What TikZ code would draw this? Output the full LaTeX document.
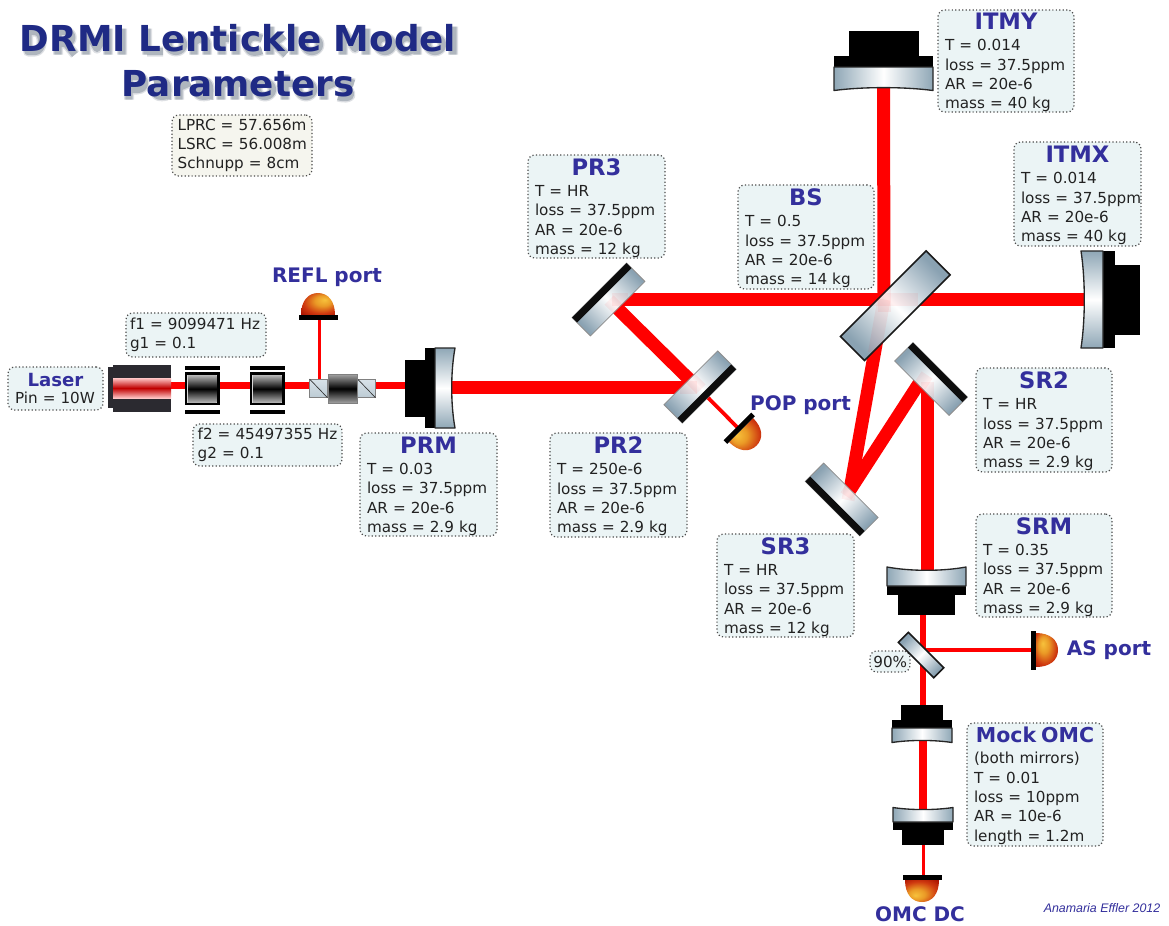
\documentclass[tikz,border=0pt]{standalone}
\usepackage{fontspec}
\setmainfont{DejaVu Sans}
\newfontfamily\authorfont{Liberation Sans}
\usetikzlibrary{calc}
\definecolor{beamred}{HTML}{FF0000}
\definecolor{titleblue}{HTML}{1F2A85}
\definecolor{labelblue}{HTML}{332F9C}
\definecolor{boxfill}{HTML}{EBF4F5}
\definecolor{boxfilltwo}{HTML}{F5F5EE}
\definecolor{glassedge}{HTML}{8FA7B6}
\definecolor{glassdiag}{HTML}{8AA2B2}
\definecolor{textgrey}{HTML}{222222}
\definecolor{domeA}{HTML}{F7C23C}
\definecolor{domeB}{HTML}{EA9A26}
\definecolor{domeC}{HTML}{CF3A10}
\definecolor{domeD}{HTML}{A81000}
\definecolor{lasergrey}{HTML}{2B2A30}
\definecolor{cubeA}{HTML}{D8E2E8}
\definecolor{cubeB}{HTML}{BCCBD4}
\definecolor{shadowgrey}{HTML}{5A6878}
\pgfdeclareradialshading{domeshade}{\pgfpoint{10bp}{10bp}}{%
  color(0bp)=(domeA);color(12bp)=(domeB);color(26bp)=(domeC);color(38bp)=(domeD);color(50bp)=(domeD)}
\tikzset{
  x=.75pt,y=-.75pt,
  beamthick/.style={draw=beamred,line width=9.75pt},
  beammid/.style={draw=beamred,line width=4.9pt},
  beamthin/.style={draw=beamred,line width=2.8pt},
  beamtint/.style={draw=beamred,line width=9.75pt,opacity=.06},
  parbox/.style={draw=black!70,fill=boxfill,line width=.9pt,dash pattern=on .9pt off 1.7pt,
    rounded corners=5pt,inner ysep=0pt,align=left,text=textgrey,
    font=\fontsize{11.4}{14.5}\selectfont},
  portlabel/.style={font=\fontsize{15}{15}\selectfont\bfseries,text=labelblue,inner sep=0pt},
}
\newcommand{\ptitle}[2][17]{\makebox[\linewidth][c]{\fontsize{#1}{#1}\selectfont\bfseries\rule{0pt}{.86em}\color{labelblue}#2}}
\newcommand{\ltitle}[1]{\makebox[\linewidth][c]{\fontsize{13.6}{13.6}\selectfont\bfseries\color{labelblue}#1}}
\def\curxs{5.25}
\newcommand{\pbox}[6][]{%
  \node[parbox,#1,inner xsep=\curxs pt,minimum width={(#4-#2)*.75pt},minimum height={(#5-#3)*.75pt},text width={(#4-#2)*.75pt-2*\curxs pt}] at ({(#2+#4)/2},{(#3+#5)/2}) #6;}
\newcommand{\curvedmirror}[9]{%
  \begin{scope}[shift={(#1,#2)},rotate=#3]
    \fill[black] (-#5/2,-#6-#7-#8) rectangle (#5/2,-#6-#7);
    \fill[black] (-#4/2,-#6-#7) rectangle (#4/2,-#6);
    \path[left color=glassedge,right color=glassedge,middle color=white,shading angle={#3-90}]
      (-#4/2,-#6) -- (#4/2,-#6) -- (#4/2,#9) .. controls (#4/5,-#9*.1) and (-#4/5,-#9*.1) .. (-#4/2,#9) -- cycle;
    \draw[black!85,line width=1pt,line join=round]
      (-#4/2,-#6) -- (#4/2,-#6) -- (#4/2,#9) .. controls (#4/5,-#9*.1) and (-#4/5,-#9*.1) .. (-#4/2,#9) -- cycle;
  \end{scope}}
\newcommand{\flatmirror}[7]{%
  \begin{scope}[shift={(#1,#2)},rotate=#3]
    \path[left color=glassdiag,right color=glassdiag,middle color=white,shading angle={#3-90}]
      (-#4/2,-#5/2) rectangle (#4/2,#5/2);
    \draw[black!45,line width=.6pt] (-#4/2,-#5/2) rectangle (#4/2,#5/2);
    \fill[black!95] (-#4/2,#6) rectangle (#4/2,#7);
  \end{scope}}
\newcommand{\plate}[6]{%
  \begin{scope}[shift={(#1,#2)},rotate=#3]
    \path[left color=glassdiag,right color=glassdiag,middle color=white,shading angle={#3-90}]
      (-#4/2,-#5/2) rectangle (#4/2,#5/2);
    \draw[black!90,line width=#6] (-#4/2,-#5/2) rectangle (#4/2,#5/2);
  \end{scope}}
\newcommand{\detector}[3]{%
  \begin{scope}[shift={(#1,#2)},rotate=#3]
    \path[shading=domeshade,shading angle=-#3] (-17,0) .. controls (-17,-14) and (-10,-22) .. (0,-22) .. controls (10,-22) and (17,-14) .. (17,0) -- cycle;
    \fill[black] (-19.5,0) rectangle (19.5,5);
  \end{scope}}
\newcommand{\eom}[1]{%
  \fill[black] (#1,366) rectangle ++(34.5,3.5);
  \fill[black] (#1,410) rectangle ++(34.5,3.5);
  \fill[black] (#1,372.3) rectangle ++(34.5,33);
  \fill[white!85!black] (#1+2.3,374.6) rectangle ++(29.9,28.4);
  \path[top color=black!30,bottom color=black!30,middle color=black] (#1+3.2,375.5) rectangle ++(28.1,26.6);}
\newcommand{\isocube}[1]{%
  \path[top color=cubeA,bottom color=cubeB] (#1,379) rectangle ++(18,18.7);
  \draw[black!50,line width=.6pt] (#1,379) rectangle ++(18,18.7);
  \draw[black!80,line width=.5pt] (#1,379) -- ++(18,18.7);}
\newcommand{\sring}[2]{(#1,#2) ellipse [x radius=7.5,y radius=7]}
\newcommand{\sstem}[3]{(#1,#2) -- (#1,#3)}
\newcommand{\shadowpath}{
  (26,26) -- (26,49) -- (33,49) .. controls (42,49) and (42,29) .. (33,29) -- (26,29)
  \sstem{56}{26}{52} (56,29) -- (63,29) .. controls (72,29) and (72,41) .. (63,41) -- (56,41) (64,41) -- (73,52)
  \sstem{84}{26}{52} (84,28) -- (95,46) -- (106,28) \sstem{106}{26}{52}
  \sstem{120}{26}{52}
  \sstem{145}{26}{52} (145,49) -- (161,49)
  \sring{174}{42}
  \sstem{192}{33}{52} (192,40) .. controls (196,35) and (205,34) .. (205,42) -- (205,52)
  \sstem{220}{27}{52} (212,36) -- (227,36)
  \sstem{234}{32}{52} \sstem{234}{24}{29}
  (260,36) .. controls (248,31) and (245,39) .. (245,42) .. controls (245,46) and (248,53) .. (260,48)
  \sstem{268}{24}{52} (268,44) -- (282,33) (272,41) -- (284,52)
  \sstem{292}{24}{52}
  \sring{310}{42}
  \sstem{341}{26}{52} (341,28) -- (353,46) -- (364,28) \sstem{364}{26}{52}
  \sring{383}{42}
  \sring{405}{42} \sstem{415}{24}{52}
  \sring{433}{42}
  \sstem{451}{24}{52}
  \sstem{127}{72}{97} (127,74) -- (135,74) .. controls (145,74) and (145,87) .. (135,87) -- (127,87)
  (152,80) .. controls (168,76) and (166,84) .. (165,97) (165,86) .. controls (150,85) and (150,97) .. (165,93)
  \sstem{177}{78}{97} (177,85) -- (188,80)
  (194,80) .. controls (210,76) and (208,84) .. (207,97) (207,86) .. controls (192,85) and (192,97) .. (207,93)
  \sstem{219}{78}{97} \sstem{233}{82}{97} \sstem{247}{82}{97} (219,83) .. controls (227,77) and (233,80) .. (233,84) (233,83) .. controls (240,77) and (247,80) .. (247,84)
  \sring{263}{87}
  \sstem{283}{72}{97} (275,81) -- (291,81)
  \sring{304}{87}
  \sstem{322}{78}{97} (322,85) -- (333,80)
  (352,81) .. controls (340,76) and (336,84) .. (344,87) .. controls (352,90) and (350,98) .. (336,94)
}
\begin{document}
\begin{tikzpicture}
\useasboundingbox (0,0) rectangle (1169,925);
\fill[white] (0,0) rectangle (1169,925);
% beam coordinates
\coordinate (laserpt) at (150,385.5);
\coordinate (isopt) at (319.5,385.5);
\coordinate (prmin) at (410,385.5);
\coordinate (prmout) at (445,387.5);
\coordinate (prtwo) at (698,387.5);
\coordinate (prtwoA) at (700,390);
\coordinate (prthreeB) at (614,305);
\coordinate (prthreeA) at (614,299.5);
\coordinate (bsc) at (884,299.5);
\coordinate (itmyp) at (883.5,85);
\coordinate (itmxp) at (1088,299.5);
\coordinate (srthree) at (850,490);
\coordinate (srtwo) at (922.5,378);
\coordinate (srtwob) at (927.5,380);
\coordinate (srmp) at (927.5,572);
\coordinate (srmo) at (923,610);
\coordinate (tap) at (923,650);
\coordinate (omcA) at (923,710);
\coordinate (omcAo) at (922.5,738);
\coordinate (omcB) at (922.5,812);
\coordinate (omcBo) at (923.5,840);
\coordinate (omcdet) at (923.5,877);
\coordinate (asdet) at (1037,650);
\coordinate (refldet) at (319.5,318);
\coordinate (popdet) at (738,428);
% beams
\draw[beammid] (laserpt) -- (prmin);
\draw[beamthin] (isopt) -- (refldet);
\draw[beamthick] (prmout) -- (prtwo);
\draw[beamthick] (prtwoA) -- (prthreeB);
\draw[beamthick] (prthreeA) -- (bsc);
\draw[beamthick] (bsc) -- (itmyp);
\draw[beamthick] (bsc) -- (itmxp);
\draw[beamthick] (bsc) -- (srthree);
\draw[beamthick] (srthree) -- (srtwo);
\draw[beamthick] (srtwob) -- (srmp);
\draw[beammid] (srmo) -- (omcA);
\draw[beamthin] (tap) -- (asdet);
\draw[draw=beamred,line width=6pt] (omcAo) -- (omcB);
\draw[beamthin] (omcBo) -- (omcdet);
\draw[beamthin] (prtwo) -- (popdet);
% 90% box under the plate
\def\curxs{2.5}
\pbox{870}{651}{910}{672}{(tapbox) {90\%}}
\def\curxs{5.25}
% laser
\fill[lasergrey] (108.3,367) rectangle (113,408);
\fill[lasergrey] (113,365) rectangle (171,412);
\path[top color=red!22!white,bottom color=red!22!white,middle color=red!75!black] (113,378) rectangle (171,398);
% modulators and isolator
\eom{185}
\eom{250}
\isocube{309.5}
\isocube{357.5}
\path[top color=black!35,bottom color=black!35,middle color=black] (328,374) rectangle (357.5,403.3);
\draw[black!50,line width=.5pt] (328,374) rectangle (357.5,403.3);
% mirrors
\curvedmirror{883.5}{87}{0}{99}{70}{20}{11}{25}{3.5}
\curvedmirror{1085}{299.5}{-90}{97}{70}{18}{12}{25}{4}
\curvedmirror{451}{388}{90}{80}{57}{16}{10}{20}{4}
\curvedmirror{926.5}{571}{180}{79}{57}{15}{9}{20}{4}
\curvedmirror{922}{740}{0}{60}{42}{12}{8}{15}{2.5}
\curvedmirror{923}{810}{180}{60}{42}{12}{8}{15}{2.5}
\flatmirror{608.5}{299.5}{45}{77}{26}{-13}{-6}
\flatmirror{700}{387}{45}{76}{26}{6}{13}
\flatmirror{931}{379}{-45}{77}{26}{-13}{-6}
\flatmirror{841.7}{499.5}{-45}{77}{26}{6}{13}
\plate{895.3}{305.7}{45}{121}{34}{1.2pt}
\plate{921}{655}{-45}{50}{14}{1.2pt}
% faint beams seen through the optics
\draw[beamtint] (bsc) -- ($(bsc)!.28!(srthree)$);
\draw[beamtint] (872,299.5) -- (918,299.5);
\draw[beamtint] (884,312) -- (884,284);
\draw[beamtint] (612,299.5) -- (628,299.5);
\draw[beamtint] (609,300) -- (618,309);
\draw[beamtint] (680,387.5) -- (697,387.5);
\draw[beamtint] (687,375) -- (701,389);
\draw[beamtint] (927.5,398) -- (927.5,382);
\draw[beamtint] (927,375) -- (917,390);
\draw[beamtint] (854,484) -- (846,496);
\draw[beamtint] (852,480) -- (848,500);
% detectors
\detector{318}{315}{0}
\detector{741}{430}{-135}
\detector{1036}{650}{-90}
\detector{922}{880}{180}
% parameter boxes
\def\curxs{4.2}
\pbox[fill=boxfilltwo]{172}{115}{312}{176}{(lengths) {LPRC~=~57.656m\\LSRC~=~56.008m\\Schnupp = 8cm}}
\def\curxs{3}
\pbox{126}{313}{266}{357}{(fone) {f1~=~9099471~Hz\\g1 = 0.1}}
\def\curxs{3.5}
\pbox{193}{424}{342}{466}{(ftwo) {f2~=~45497355~Hz\\g2 = 0.1}}
\def\curxs{5.25}
\pbox{8}{367}{103}{410}{(laserbox) {\ltitle{Laser}\\[-1.5pt]Pin = 10W}}
\pbox{938}{10}{1074}{112}{(itmybox) {\ptitle{ITMY}\\[1.5pt]T = 0.014\\loss = 37.5ppm\\AR = 20e-6\\mass = 40 kg}}
\pbox{1014}{142}{1141}{246}{(itmxbox) {\ptitle{ITMX}\\[1.5pt]T = 0.014\\loss~=~37.5ppm\\AR = 20e-6\\mass = 40 kg}}
\pbox{738}{185}{874}{289}{(bsbox) {\ptitle{BS}\\[1.5pt]T = 0.5\\loss = 37.5ppm\\AR = 20e-6\\mass = 14 kg}}
\pbox{528}{155}{665}{258}{(prthreebox) {\ptitle{PR3}\\[1.5pt]T = HR\\loss = 37.5ppm\\AR = 20e-6\\mass = 12 kg}}
\pbox{360}{433}{497}{536}{(prmbox) {\ptitle{PRM}\\[1.5pt]T = 0.03\\loss = 37.5ppm\\AR = 20e-6\\mass = 2.9 kg}}
\pbox{550}{433}{687}{537}{(prtwobox) {\ptitle{PR2}\\[1.5pt]T = 250e-6\\loss = 37.5ppm\\AR = 20e-6\\mass = 2.9 kg}}
\pbox{976}{368}{1112}{472}{(srtwobox) {\ptitle{SR2}\\[1.5pt]T = HR\\loss = 37.5ppm\\AR = 20e-6\\mass = 2.9 kg}}
\pbox{717}{534}{854}{637}{(srthreebox) {\ptitle{SR3}\\[1.5pt]T = HR\\loss = 37.5ppm\\AR = 20e-6\\mass = 12 kg}}
\pbox{976}{514}{1112}{617}{(srmbox) {\ptitle{SRM}\\[1.5pt]T = 0.35\\loss = 37.5ppm\\AR = 20e-6\\mass = 2.9 kg}}
\pbox{967}{723}{1103}{846}{(omcbox) {\ptitle[15.4]{Mock OMC}\\[1.5pt](both mirrors)\\T = 0.01\\loss = 10ppm\\AR = 10e-6\\length = 1.2m}}
% port labels
\node[portlabel] (reflport) at (327,277) {REFL port};
\node[portlabel] (popport) at (800.5,405) {POP port};
\node[portlabel] (asport) at (1109,650) {AS port};
\node[portlabel] (omcdc) at (920,914) {OMC DC};
% title shadow and title
\begin{scope}[shift={(2,2.5)},line join=round]
\draw[shadowgrey,line width=7.5pt,opacity=.2] \shadowpath;
\draw[shadowgrey,line width=5.5pt,opacity=.35] \shadowpath;
\end{scope}
\node[align=center,inner sep=0pt,text=titleblue,font=\fontsize{26.8}{33.8}\selectfont\bfseries] (title) at (238,61) {DRMI Lentickle Model\\Parameters};
\node[inner sep=0pt,text=labelblue,font=\fontsize{9.3}{10}\selectfont\authorfont\itshape] (author) at (1102,908) {Anamaria Effler 2012};
\end{tikzpicture}
\end{document}
